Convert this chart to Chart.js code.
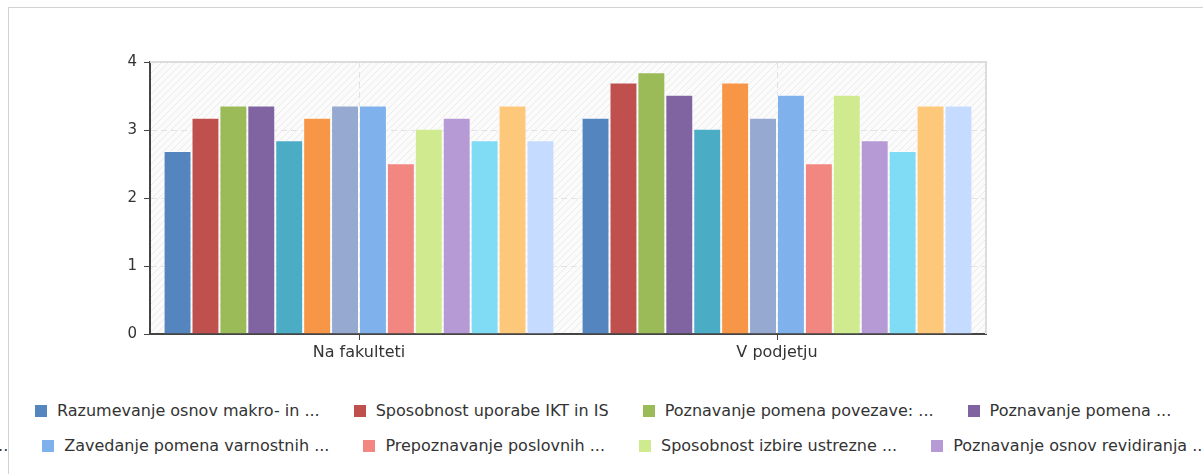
<!DOCTYPE html>
<html>
<head>
<meta charset="utf-8">
<script src="https://cdn.jsdelivr.net/npm/chart.js@4.4.1/dist/chart.umd.min.js"></script>
<style>
  html, body { margin: 0; padding: 0; background: #fff; width: 1203px; height: 474px; overflow: hidden; font-family: "DejaVu Sans", sans-serif; }
  #frame { position: absolute; left: 8px; top: 7px; width: 1400px; height: 700px; border: 1px solid #d2d2d2; }
  #wrap { position: absolute; left: 0; top: 0; width: 1203px; height: 390px; }
  .row { position: absolute; display: flex; gap: 34px; white-space: nowrap; font-size: 16px; line-height: 18px; color: #333; }
  .item { display: flex; align-items: center; }
  .sw { width: 12px; height: 12px; margin-right: 10px; flex: none; }
</style>
</head>
<body>
<div id="frame"></div>
<div id="wrap"><canvas id="chart"></canvas></div>
<div class="row" id="row1" style="left:35px; top:402px"></div>
<div class="row" id="row2" style="left:0; top:437px"></div>
<script>
const categories = ["Na fakulteti", "V podjetju"];

const seriesNames = [
  "Razumevanje osnov makro- in ...",
  "Sposobnost uporabe IKT in IS",
  "Poznavanje pomena povezave: ...",
  "Poznavanje pomena ...",
  "Razumevanje vloge ...",
  "Sposobnost analize ...",
  "Poznavanje pomena ...",
  "Zavedanje pomena varnostnih ...",
  "Prepoznavanje poslovnih ...",
  "Sposobnost izbire ustrezne ...",
  "Poznavanje osnov revidiranja ...",
  "Sposobnost vodenja ...",
  "Razumevanje procesov ...",
  "Sposobnost komuniciranja ..."
];

const naFakulteti = [2.69, 3.18, 3.36, 3.36, 2.85, 3.18, 3.36, 3.36, 2.51, 3.02, 3.18, 2.85, 3.36, 2.85];
const vPodjetju   = [3.18, 3.70, 3.85, 3.52, 3.02, 3.70, 3.18, 3.52, 2.51, 3.52, 2.85, 2.69, 3.36, 3.36];

const seriesColors = [
  "#5585be", "#c0504d", "#9bbb59", "#8064a2", "#4bacc6", "#f79646", "#95a9d1",
  "#7fb2ec", "#f28680", "#d0ea8f", "#b59ad5", "#80dcf5", "#fec87b", "#c5dbff"
];

const yTicks = [0, 1, 2, 3, 4];

// hatched plot background
function hatch() {
  const c = document.createElement("canvas");
  c.width = 7; c.height = 7;
  const g = c.getContext("2d");
  g.fillStyle = "#fbfbfb";
  g.fillRect(0, 0, 7, 7);
  g.strokeStyle = "#eaeaea";
  g.lineWidth = 1;
  g.beginPath();
  g.moveTo(-1, 8); g.lineTo(8, -1);
  g.moveTo(-1, 1); g.lineTo(1, -1);
  g.moveTo(6, 8); g.lineTo(8, 6);
  g.stroke();
  return c;
}

const plotBg = {
  id: "plotBg",
  beforeDraw(chart) {
    const { ctx, chartArea: a } = chart;
    ctx.save();
    ctx.fillStyle = ctx.createPattern(hatch(), "repeat");
    ctx.fillRect(a.left, a.top, a.right - a.left, a.bottom - a.top);
    ctx.restore();
  },
  beforeDatasetsDraw(chart) {
    const { ctx, chartArea: a } = chart;
    ctx.save();
    ctx.strokeStyle = "#dcdcdc";
    ctx.lineWidth = 2;
    ctx.beginPath();
    ctx.moveTo(a.left, a.top);
    ctx.lineTo(a.right, a.top);
    ctx.lineTo(a.right, a.bottom);
    ctx.stroke();
    ctx.restore();
  }
};

const datasets = seriesNames.map((name, i) => ({
  label: name,
  data: [naFakulteti[i], vPodjetju[i]],
  backgroundColor: seriesColors[i],
  borderColor: "rgba(255,255,255,0.45)",
  borderWidth: 1,
  borderSkipped: "bottom",
  categoryPercentage: 0.935,
  barPercentage: 1
}));

Chart.defaults.font.family = "'DejaVu Sans', sans-serif";
Chart.defaults.color = "#333";

new Chart(document.getElementById("chart"), {
  type: "bar",
  data: { labels: categories, datasets: datasets },
  options: {
    responsive: true,
    maintainAspectRatio: false,
    animation: false,
    layout: { padding: { left: 0, right: 217, top: 62, bottom: 20 } },
    plugins: { legend: { display: false }, tooltip: { enabled: false } },
    scales: {
      x: {
        grid: { offset: false, color: "#e2e2e2", tickColor: "#444", tickLength: 6 },
        border: { color: "#444", width: 2, dash: [6, 4] },
        ticks: { padding: 3, color: "#333", font: { size: 16 } },
        afterFit(s) { s.height = 36; }
      },
      y: {
        min: 0,
        max: 4,
        afterBuildTicks(s) { s.ticks = yTicks.map(v => ({ value: v })); },
        grid: { color: "#e2e2e2", tickColor: "#444", tickLength: 6 },
        border: { color: "#444", width: 2, dash: [6, 4] },
        ticks: { padding: 7, color: "#333", font: { size: 15 } },
        afterFit(s) { s.width = 150; }
      }
    }
  },
  plugins: [plotBg]
});

// legend: row 1 shows series 1-4, row 2 is scrolled so series 8 sits at x=42
function legendItem(i) {
  const d = document.createElement("div");
  d.className = "item";
  d.innerHTML = '<span class="sw" style="background:' + seriesColors[i] + '"></span><span></span>';
  d.lastChild.textContent = seriesNames[i];
  return d;
}
const row1 = document.getElementById("row1");
const row2 = document.getElementById("row2");
seriesNames.forEach((n, i) => {
  if (i < 4) row1.appendChild(legendItem(i));
  else row2.appendChild(legendItem(i));
});
const eighth = row2.children[3];
row2.style.left = (42 - eighth.offsetLeft) + "px";
</script>
</body>
</html>
